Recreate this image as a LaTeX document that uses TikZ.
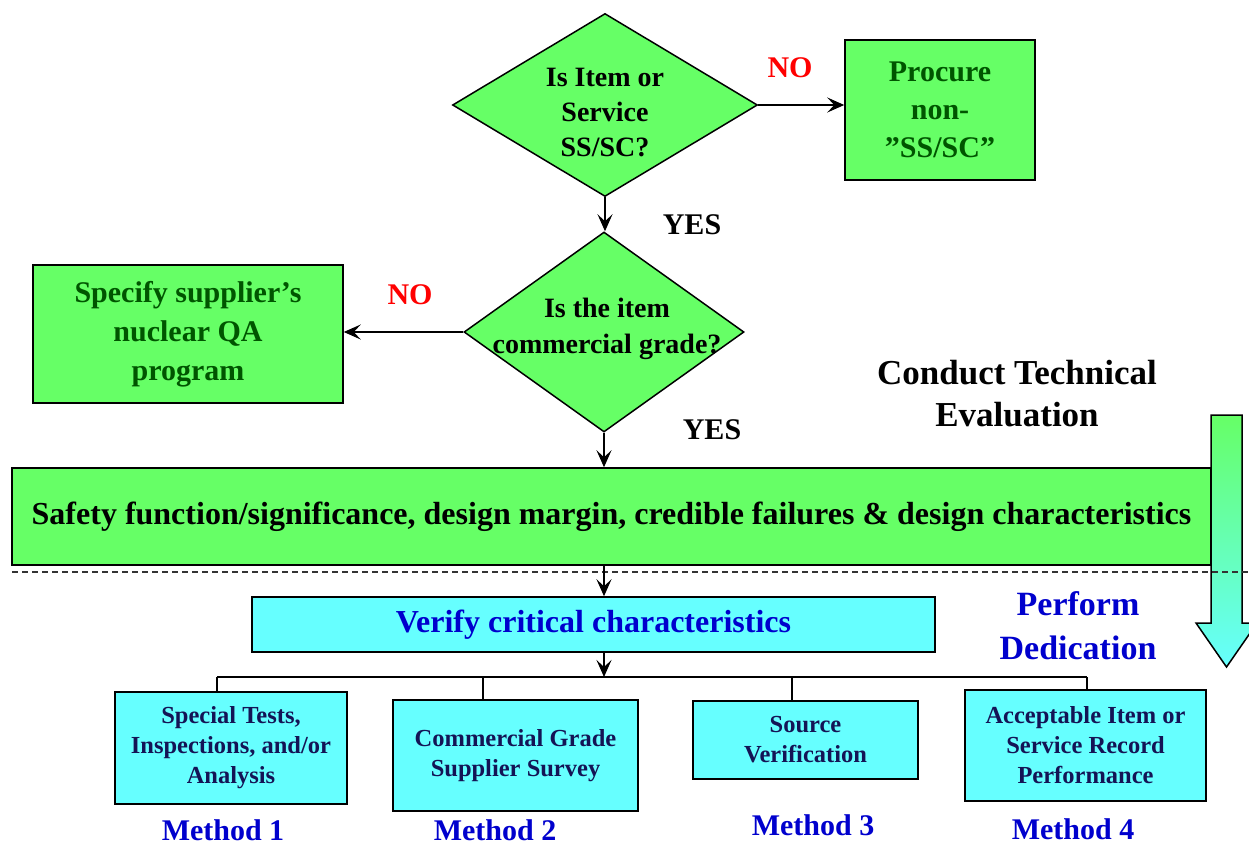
\documentclass[tikz,border=0pt]{standalone}
\usepackage{fontspec}
\setmainfont{Liberation Serif}
\usetikzlibrary{shapes.geometric,arrows.meta}
\definecolor{boxgreen}{RGB}{102,255,102}
\definecolor{boxcyan}{RGB}{102,255,255}
\definecolor{darkgreen}{RGB}{0,85,0}
\definecolor{navytext}{RGB}{20,20,85}
\definecolor{dedblue}{RGB}{0,0,205}
\definecolor{noRed}{RGB}{255,0,0}
\newcommand{\fsz}[2]{\fontsize{#1}{#2}\selectfont\bfseries}

\begin{document}
\begin{tikzpicture}[x=1pt,y=-1pt,
  gbox/.style={draw, line width=1.5pt, fill=boxgreen, align=center, inner sep=0pt},
  cbox/.style={draw, line width=1.5pt, fill=boxcyan, align=center, inner sep=0pt, text=navytext},
  dec/.style={diamond, draw, line width=1.5pt, fill=boxgreen, align=center, inner sep=0pt},
  conn/.style={line width=2pt, -{Stealth[length=17pt,width=15pt,inset=7pt]}},
  bus/.style={line width=2pt},
  ans/.style={font=\fsz{30}{36}},
  meth/.style={font=\fsz{30}{36}, text=dedblue, inner sep=1pt}]
\useasboundingbox (0,0) rectangle (1249,847);

\node[dec, minimum width=305, minimum height=183] (d1) at (605,105) {};
\node[font=\fsz{28}{35}, align=center] (d1txt) at (605,113) {Is Item or\\Service\\SS/SC?};
\node[gbox, minimum width=190, minimum height=140, text=darkgreen, font=\fsz{30}{38}] (proc) at (940,110) {Procure\\non-\\”SS/SC”};
\node[dec, minimum width=280, minimum height=200] (d2) at (604,332) {};
\node[font=\fsz{28}{36}, align=center] (d2txt) at (607,329) {Is the item\\commercial grade?};
\node[gbox, minimum width=310, minimum height=138, text=darkgreen, font=\fsz{30}{39}] (spec) at (188,334) {Specify supplier’s\\nuclear QA\\program};

\node[ans, text=noRed] (no1) at (790,68) {NO};
\node[ans, text=noRed] (no2) at (410,295) {NO};
\node[ans] (yes1) at (692,225) {YES};
\node[ans] (yes2) at (712,430) {YES};
\node[font=\fsz{35}{42}, align=center] (cte) at (1017,394) {Conduct Technical\\Evaluation};

\node[gbox, minimum width=1199, minimum height=97, font=\fsz{32}{40}] (wide) at (611.5,516.5) {Safety function/significance, design margin, credible failures \& design characteristics};
\path[draw, line width=1.5pt, top color=boxgreen, bottom color=boxcyan] (1211,415) -- (1242,415) -- (1242,623) -- (1257,623) -- (1226.5,667) -- (1196,623) -- (1211,623) -- cycle;
\draw[line width=1.2pt, dash pattern=on 6pt off 4pt, black!80] (12,572) -- (1249,572);

\node[cbox, minimum width=683, minimum height=55, text=dedblue, font=\fsz{32}{38}] (verify) at (593.5,624.5) {Verify critical characteristics};
\node[font=\fsz{34}{44}, align=center, text=dedblue] (pd) at (1078,626) {Perform\\Dedication};

\node[cbox, minimum width=232, minimum height=112, font=\fsz{24.5}{30}] (m1) at (231,748) {Special Tests,\\Inspections, and/or\\Analysis};
\node[cbox, minimum width=245, minimum height=111, font=\fsz{24.5}{30}] (m2) at (515.5,755.5) {Commercial Grade\\Supplier Survey};
\node[cbox, minimum width=225, minimum height=78, font=\fsz{24.5}{30}] (m3) at (805.5,740) {Source\\Verification};
\node[cbox, minimum width=241, minimum height=111, font=\fsz{24.5}{30}] (m4) at (1085.5,745.5) {Acceptable Item or\\Service Record\\Performance};

\node[meth] (l1) at (223,830) {Method 1};
\node[meth] (l2) at (495,830) {Method 2};
\node[meth] (l3) at (813,825) {Method 3};
\node[meth] (l4) at (1073,829) {Method 4};

\draw[conn] (d1.east) -- (d1.east -| proc.west);
\draw[conn] (d1.south) -- (d1.south |- d2.north);
\draw[conn] (d2.west) -- (d2.west -| spec.east);
\draw[conn] (d2.south) -- (d2.south |- wide.north);
\draw[conn] (wide.south -| d2) -- (verify.north -| d2);

\coordinate (hub) at (604,677);
\coordinate (t1) at (217,677);
\coordinate (t2) at (483,677);
\coordinate (t3) at (792,677);
\coordinate (t4) at (1087,677);
\draw[conn] (verify.south -| d2) -- (hub);
\draw[bus] (t1) -- (t4);
\foreach \i in {1,...,4}
  \draw[bus] (t\i) -- (t\i |- m\i.north);
\end{tikzpicture}
\end{document}
